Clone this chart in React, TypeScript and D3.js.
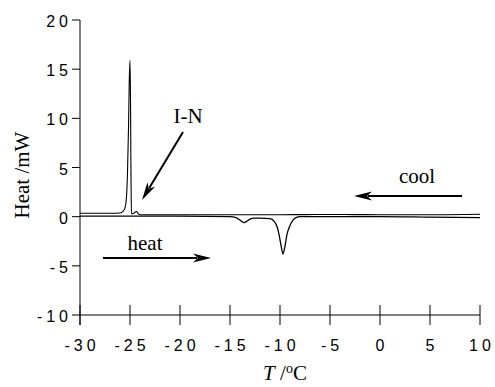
import React from 'react';
import * as d3 from 'd3';

// cooling trace (upper)
const coolT = [-30, -27, -26, -25.7, -25.5, -25.35, -25.25, -25.15, -25.08, -25.0, -24.95, -24.9, -24.85, -24.7, -24.5, -24.35, -24.2, -24.0, -20, -15, -10, -5, 0, 5, 10];
const coolQ = [0.35, 0.35, 0.38, 0.55, 0.9, 2.0, 4.5, 9.0, 13.5, 15.9, 12.0, 4.0, 0.35, 0.3, 0.45, 0.55, 0.3, 0.2, 0.2, 0.2, 0.2, 0.22, 0.2, 0.2, 0.25];

// heating trace (lower)
const heatT = [-30, -20, -15, -14.4, -14.0, -13.6, -13.3, -13.0, -12.6, -12, -11, -10.6, -10.3, -10.1, -9.9, -9.7, -9.5, -9.3, -9.0, -8.7, -8.4, -8, -5, 0, 5, 10];
const heatQ = [0.05, 0.05, 0.0, -0.1, -0.35, -0.6, -0.45, -0.25, -0.15, -0.15, -0.2, -0.45, -1.0, -1.8, -2.9, -3.8, -3.0, -1.8, -0.9, -0.35, -0.1, 0, 0, 0, -0.05, -0.1];

const xTicks = [-30, -25, -20, -15, -10, -5, 0, 5, 10];
const yTicks = [20, 15, 10, 5, 0, -5, -10];

// annotations: label, label position, arrow from -> to
const notes = [
  {text: 'I-N', tx: -19.2, ty: 9.5, x1: -19.7, y1: 8.6, x2: -23.8, y2: 1.7},
  {text: 'cool', tx: 3.7, ty: 3.4, x1: 8.2, y1: 2.1, x2: -2.6, y2: 2.1},
  {text: 'heat', tx: -23.5, ty: -3.4, x1: -27.7, y1: -4.2, x2: -16.9, y2: -4.2},
];

export default function App() {
  const x = d3.scaleLinear().domain([-30, 10]).range([80, 480]);
  const y = d3.scaleLinear().domain([-10, 20]).range([315, 20]);

  const line = d3
    .line<[number, number]>()
    .x((d) => x(d[0]))
    .y((d) => y(d[1]))
    .curve(d3.curveMonotoneX);

  const coolPath = line(coolT.map((t, i) => [t, coolQ[i]]));
  const heatPath = line(heatT.map((t, i) => [t, heatQ[i]]));

  const arrow = (n: typeof notes[0], i: number) => {
    const ax = x(n.x1), ay = y(n.y1), bx = x(n.x2), by = y(n.y2);
    const ang = Math.atan2(by - ay, bx - ax);
    const L = 18, W = 4.5;
    const baseX = bx - L * Math.cos(ang), baseY = by - L * Math.sin(ang);
    const px = -Math.sin(ang) * W, py = Math.cos(ang) * W;
    const head = `M${bx},${by}L${baseX + px},${baseY + py}L${bx - (L - 5) * Math.cos(ang)},${by - (L - 5) * Math.sin(ang)}L${baseX - px},${baseY - py}Z`;
    return (
      <g key={i}>
        <line x1={ax} y1={ay} x2={baseX + 4 * Math.cos(ang)} y2={baseY + 4 * Math.sin(ang)} stroke="#000" strokeWidth={2} />
        <path d={head} fill="#000" />
      </g>
    );
  };

  const ls = 4;
  const tickFont = {fontFamily: 'Liberation Sans, Arial, sans-serif', fontSize: 16, letterSpacing: ls};
  const serif = 'Liberation Serif, Times New Roman, serif';

  return (
    <svg width={495} height={387} style={{position: 'absolute', left: 0, top: 0, background: '#fff'}}>
      {/* y axis */}
      <line x1={80} y1={y(20)} x2={80} y2={325} stroke="#000" strokeWidth={1} />
      {yTicks.map((t) => (
        <g key={'y' + t}>
          <line x1={72} x2={80} y1={y(t)} y2={y(t)} stroke="#000" strokeWidth={1} />
          <text x={68 + ls} y={y(t) + 7} textAnchor="end" style={tickFont}>
            {String(t)}
          </text>
        </g>
      ))}
      {/* x axis */}
      <line x1={80} x2={480} y1={315} y2={315} stroke="#000" strokeWidth={1.2} />
      {xTicks.map((t) => (
        <g key={'x' + t}>
          <line x1={x(t)} x2={x(t)} y1={305} y2={325} stroke="#000" strokeWidth={1} />
          <text x={x(t) + ls / 2} y={351} textAnchor="middle" style={tickFont}>
            {String(t)}
          </text>
        </g>
      ))}

      <path d={heatPath || ''} fill="none" stroke="#000" strokeWidth={1.3} />
      <path d={coolPath || ''} fill="none" stroke="#000" strokeWidth={1.1} />

      {notes.map(arrow)}
      {notes.map((n, i) => (
        <text key={'t' + i} x={x(n.tx)} y={y(n.ty)} textAnchor="middle" fontFamily={serif} fontSize={21}>
          {n.text}
        </text>
      ))}

      <text transform="translate(29,175) rotate(-90)" textAnchor="middle" fontFamily={serif} fontSize={21}>
        Heat /mW
      </text>
      <text x={285} y={380} textAnchor="middle" fontFamily={serif} fontSize={21}>
        <tspan fontStyle="italic">T</tspan>
        <tspan> /</tspan>
        <tspan fontSize={14} dy={-7}>o</tspan>
        <tspan dy={7}>C</tspan>
      </text>
    </svg>
  );
}
